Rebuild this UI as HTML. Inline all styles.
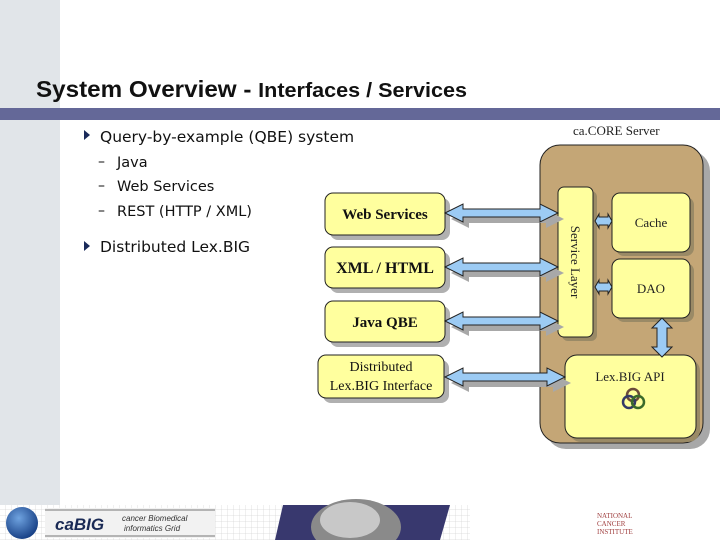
<!DOCTYPE html>
<html><head><meta charset="utf-8"><style>
html,body{margin:0;padding:0;background:#fff;width:720px;height:540px;overflow:hidden}
svg{display:block}
</style></head><body>
<svg width="720" height="540" viewBox="0 0 720 540" xmlns="http://www.w3.org/2000/svg">
<defs>
<pattern id="grid" width="6" height="6" patternUnits="userSpaceOnUse"><rect width="6" height="6" fill="#fff"/><path d="M6 0V6H0" fill="none" stroke="#d6d6d6" stroke-width="0.7"/></pattern>
<radialGradient id="globe" cx="0.4" cy="0.35" r="0.7"><stop offset="0" stop-color="#6fa3e0"/><stop offset="1" stop-color="#123a80"/></radialGradient>
</defs>
<rect x="0" y="0" width="60" height="505" fill="#e1e5e9"/>
<text x="36" y="97" font-family="Liberation Sans, sans-serif" font-size="23" font-weight="bold" fill="#111" textLength="431" lengthAdjust="spacingAndGlyphs">System Overview - <tspan font-size="20.5">Interfaces / Services</tspan></text>
<rect x="0" y="108" width="720" height="12" fill="#646898"/>

<g font-family="DejaVu Sans, sans-serif" fill="#111">
<path d="M84 130 L90 135 L84 140Z" fill="#1a2a5a"/>
<text x="100" y="142" font-size="15.5">Query-by-example (QBE) system</text>
<text x="98" y="166" font-size="14">–</text><text x="117" y="167" font-size="14.5">Java</text>
<text x="98" y="190" font-size="14">–</text><text x="117" y="191" font-size="14.5">Web Services</text>
<text x="98" y="215" font-size="14">–</text><text x="117" y="216" font-size="14.5">REST (HTTP / XML)</text>
<path d="M84 241 L90 246 L84 251Z" fill="#1a2a5a"/>
<text x="100" y="252" font-size="15.5">Distributed Lex.BIG</text>
</g>

<text x="573" y="135" font-family="Liberation Serif, serif" font-size="13" fill="#222">ca.CORE Server</text>
<rect x="546" y="151" width="164" height="298" rx="20" fill="#a8a8a8"/>
<rect x="540" y="145" width="163" height="298" rx="20" fill="#c4a676" stroke="#222" stroke-width="1"/>

<g stroke="#222" stroke-width="1" fill="#ffff9e">
<rect x="562" y="191" width="35" height="150" rx="6" fill="#9a8a66" stroke="none"/>
<rect x="558" y="187" width="35" height="150" rx="6"/>
<rect x="616" y="197" width="78" height="59" rx="8" fill="#9a8a66" stroke="none"/>
<rect x="612" y="193" width="78" height="59" rx="8"/>
<rect x="616" y="263" width="78" height="59" rx="8" fill="#9a8a66" stroke="none"/>
<rect x="612" y="259" width="78" height="59" rx="8"/>
<rect x="569" y="359" width="131" height="83" rx="12" fill="#9a8a66" stroke="none"/>
<rect x="565" y="355" width="131" height="83" rx="12"/>
</g>
<text transform="translate(575,262) rotate(90)" text-anchor="middle" font-family="Liberation Serif, serif" font-size="13" fill="#222" dy="4">Service Layer</text>
<text x="651" y="227" text-anchor="middle" font-family="Liberation Serif, serif" font-size="13" fill="#222">Cache</text>
<text x="651" y="293" text-anchor="middle" font-family="Liberation Serif, serif" font-size="13" fill="#222">DAO</text>
<text x="630" y="381" text-anchor="middle" font-family="Liberation Serif, serif" font-size="13" fill="#222">Lex.BIG API</text>
<g fill="none" stroke-width="2.5"><circle cx="633" cy="395" r="6" stroke="#6a4a3a"/><circle cx="629" cy="402" r="6" stroke="#333a66"/><circle cx="638" cy="402" r="6" stroke="#3a6a2a"/></g>

<g stroke="#222" stroke-width="1" fill="#ffff9e">
<rect x="330" y="198" width="120" height="42" rx="8" fill="#b0b0b0" stroke="none"/>
<rect x="325" y="193" width="120" height="42" rx="8"/>
<rect x="330" y="252" width="120" height="41" rx="8" fill="#b0b0b0" stroke="none"/>
<rect x="325" y="247" width="120" height="41" rx="8"/>
<rect x="330" y="306" width="120" height="41" rx="8" fill="#b0b0b0" stroke="none"/>
<rect x="325" y="301" width="120" height="41" rx="8"/>
<rect x="323" y="360" width="126" height="43" rx="8" fill="#b0b0b0" stroke="none"/>
<rect x="318" y="355" width="126" height="43" rx="8"/>
</g>
<g font-family="Liberation Serif, serif" font-weight="bold" fill="#111" text-anchor="middle">
<text x="385" y="219" font-size="15">Web Services</text>
<text x="385" y="273" font-size="16">XML / HTML</text>
<text x="385" y="327" font-size="15">Java QBE</text>
<text x="381" y="371" font-size="14" font-weight="normal">Distributed</text>
<text x="381" y="390" font-size="14" font-weight="normal">Lex.BIG Interface</text>
</g>

<g fill="#a8a8a8">
<path d="M451 219 l18 -9 v5 h77 v-5 l18 9 l-18 9 v-5 h-77 v5z"/>
<path d="M451 273 l18 -9 v5 h77 v-5 l18 9 l-18 9 v-5 h-77 v5z"/>
<path d="M451 327 l18 -9 v5 h77 v-5 l18 9 l-18 9 v-5 h-77 v5z"/>
<path d="M451 383 l18 -9 v5 h84 v-5 l18 9 l-18 9 v-5 h-84 v5z"/>
</g>
<g fill="#9ccbf4" stroke="#222" stroke-width="1">
<path d="M445 213 l18 -9 v5 h77 v-5 l18 9 l-18 9 v-5 h-77 v5z"/>
<path d="M445 267 l18 -9 v5 h77 v-5 l18 9 l-18 9 v-5 h-77 v5z"/>
<path d="M445 321 l18 -9 v5 h77 v-5 l18 9 l-18 9 v-5 h-77 v5z"/>
<path d="M445 377 l18 -9 v5 h84 v-5 l18 9 l-18 9 v-5 h-84 v5z"/>
<path d="M595 221 l4 -7 v3 h9 v-3 l4 7 l-4 7 v-3 h-9 v3z"/>
<path d="M595 287 l4 -7 v3 h9 v-3 l4 7 l-4 7 v-3 h-9 v3z"/>
<path d="M662 318 l10 10 h-5 v19 h5 l-10 10 l-10 -10 h5 v-19 h-5z"/>
</g>

<rect x="0" y="505" width="470" height="35" fill="url(#grid)"/>
<circle cx="22" cy="523" r="16" fill="url(#globe)"/>
<rect x="45" y="508" width="170" height="30" fill="#f2f2f2"/>
<line x1="45" y1="510" x2="215" y2="510" stroke="#777"/><line x1="45" y1="536" x2="215" y2="536" stroke="#777"/>
<text x="55" y="530" font-family="Liberation Sans, sans-serif" font-style="italic" font-weight="bold" font-size="17" fill="#1a2a55">caBIG</text>
<text x="122" y="521" font-family="Liberation Sans, sans-serif" font-style="italic" font-size="8" fill="#333">cancer Biomedical</text>
<text x="124" y="531" font-family="Liberation Sans, sans-serif" font-style="italic" font-size="8" fill="#333">informatics Grid</text>
<path d="M283 505 H450 L440 540 H275Z" fill="#38386e"/>
<ellipse cx="356" cy="527" rx="45" ry="28" fill="#8a8a8a"/>
<ellipse cx="350" cy="520" rx="30" ry="18" fill="#c8c8c8"/>
<text x="597" y="518" font-family="Liberation Serif, serif" font-size="7" fill="#a04040">NATIONAL</text>
<text x="597" y="526" font-family="Liberation Serif, serif" font-size="7" fill="#a04040">CANCER</text>
<text x="597" y="534" font-family="Liberation Serif, serif" font-size="7" fill="#a04040">INSTITUTE</text>
</svg>
</body></html>
